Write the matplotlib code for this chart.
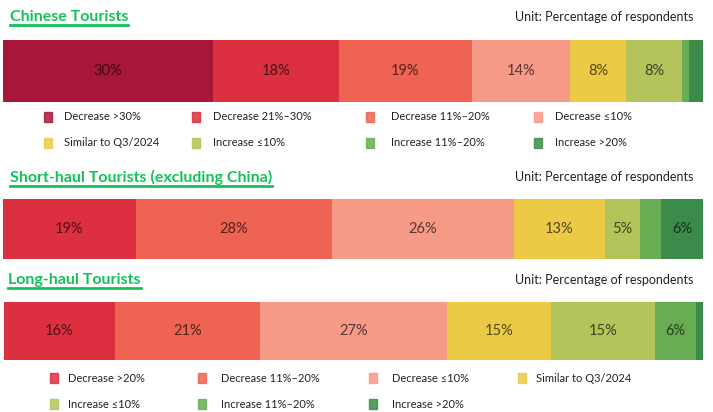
import matplotlib
matplotlib.use("Agg")
import matplotlib.colors as mcolors
from matplotlib import pyplot as plt
from matplotlib.lines import Line2D
from matplotlib.patches import Rectangle

plt.rcParams['font.family'] = ['Lato', 'DejaVu Sans']

# Data
china_categories = ['Decrease >30%', 'Decrease 21%–30%', 'Decrease 11%–20%', 'Decrease ≤10%',
                    'Similar to Q3/2024', 'Increase ≤10%', 'Increase 11%–20%', 'Increase >20%']
china_values = [30, 18, 19, 14, 8, 8, 1, 2]
short_haul_values = [0, 19, 28, 26, 13, 5, 3, 6]

long_categories = ['Decrease >20%', 'Decrease 11%–20%', 'Decrease ≤10%', 'Similar to Q3/2024',
                   'Increase ≤10%', 'Increase 11%–20%', 'Increase >20%']
long_haul_values = [16, 21, 27, 15, 15, 6, 1]

titles = ['Chinese Tourists', 'Short-haul Tourists (excluding China)', 'Long-haul Tourists']
unit_text = 'Unit: Percentage of respondents'

# Colours
china_colors = ['#A8173A', '#DC2F3F', '#EE6352', '#F79A88', '#ECCA46', '#B5C35B', '#68AD54', '#3C8B4A']
long_colors = china_colors[1:]
title_green = '#14C25A'

W, H = 713, 412
fig = plt.figure(figsize=(W / 100, H / 100), dpi=100)


def px_rect(x0, y0, x1, y1):
    # pixel box (top-left origin) -> figure fraction rect
    return [x0 / W, 1 - y1 / H, (x1 - x0) / W, (y1 - y0) / H]


def stacked_bar(rect, values, colors):
    ax = fig.add_axes(rect)
    left = 0
    for v, c in zip(values, colors):
        ax.barh(0, v, left=left, height=1, color=c, edgecolor='none')
        if v >= 4:
            txt_col = tuple(ch * 0.35 for ch in mcolors.to_rgb(c))
            ax.text(left + v / 2, 0, f'{v}%', ha='center', va='center',
                    fontsize=10.5, color=txt_col)
        left += v
    ax.set_xlim(0, sum(values))
    ax.set_ylim(-0.5, 0.5)
    ax.axis('off')
    return ax


stacked_bar(px_rect(3, 40, 703, 102), china_values, china_colors)
stacked_bar(px_rect(3, 199, 703, 259), short_haul_values, china_colors)
stacked_bar(px_rect(4, 302, 703, 360), long_haul_values, long_colors)

# Titles and unit notes
title_pos = [(10, 17), (10, 177), (8, 280)]
title_texts = []
for t, (x, y) in zip(titles, title_pos):
    tt = fig.text(x / W, 1 - y / H, t, ha='left', va='center', fontsize=11.5,
                  fontweight='bold', color=title_green)
    title_texts.append(tt)
    fig.text(693 / W, 1 - y / H, unit_text, ha='right', va='center', fontsize=9, color='#222222')


def legend_block(labels, colors, marker_x, text_x, row_y):
    for i, (lab, c) in enumerate(zip(labels, colors)):
        col, row = i % 4, i // 4
        y = row_y[row]
        fig.patches.append(Rectangle(((marker_x[col] - 4) / W, 1 - (y + 5) / H), 8 / W, 10 / H,
                                     transform=fig.transFigure, color=c, alpha=0.85))
        fig.text(text_x[col] / W, 1 - y / H, lab, ha='left', va='center', fontsize=8, color='#222222')


legend_block(china_categories, china_colors, [48, 196, 370, 538], [64, 213, 391, 555], [117, 143])
legend_block(long_categories, long_colors, [54, 202, 373, 522], [68, 221, 392, 536], [378, 404])

# Underline the titles
fig.canvas.draw()
renderer = fig.canvas.get_renderer()
for tt in title_texts:
    bb = tt.get_window_extent(renderer)
    y = (bb.y0 - 1) / H
    fig.lines.append(Line2D([bb.x0 / W, bb.x1 / W], [y, y], transform=fig.transFigure,
                            color=title_green, linewidth=2))

fig.savefig('out.png', dpi=100)
